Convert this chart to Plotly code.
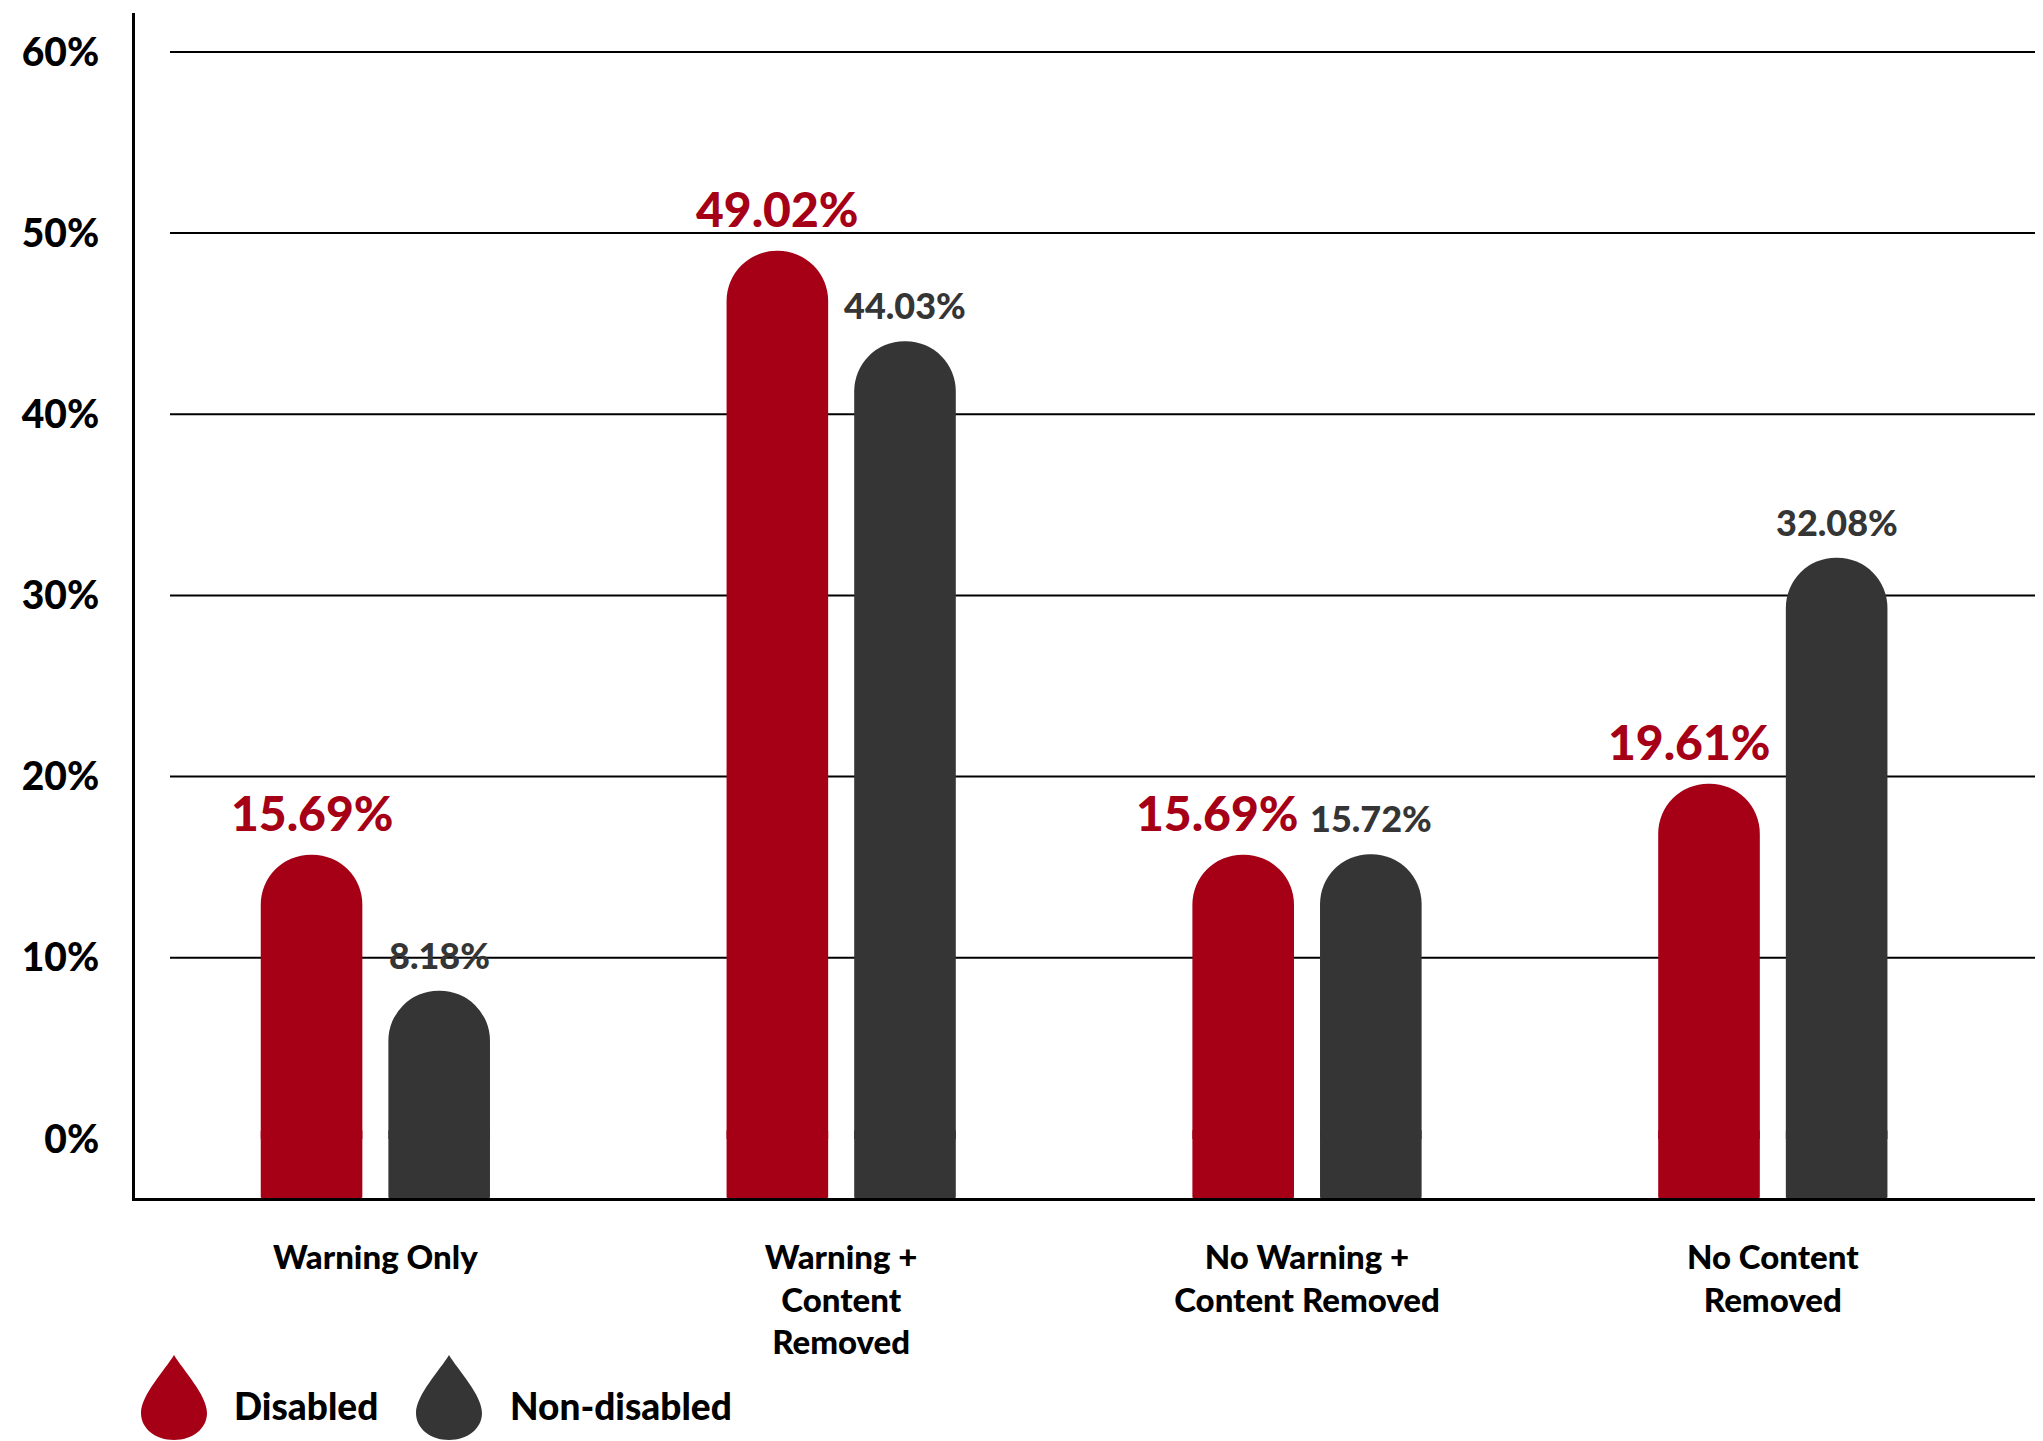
import plotly.graph_objects as go

# ---------------- data ----------------
categories = [
    "Warning Only",
    "Warning +<br>Content<br>Removed",
    "No Warning +<br>Content Removed",
    "No Content<br>Removed",
]
series_names = ["Disabled", "Non-disabled"]
disabled = [15.69, 49.02, 15.69, 19.61]
non_disabled = [8.18, 44.03, 15.72, 32.08]
y_tickvals = [0, 10, 20, 30, 40, 50, 60]
y_ticktext = ["0%", "10%", "20%", "30%", "40%", "50%", "60%"]

# ---------------- styles / layout ----------------
RED = "#A60016"
DARK = "#353535"
BLACK = "#000000"
FONT = "Lato, 'Open Sans', sans-serif"
PAGE_W, PAGE_H = 2043, 1441
BODY = 8                      # default body margin of the html page
W, H = PAGE_W - BODY, PAGE_H - BODY
PLOT_L, PLOT_T, PLOT_R, PLOT_B = 135, 13, 2043, 1198   # plot area in page pixels
M_L, M_T = PLOT_L - BODY, PLOT_T - BODY
M_R, M_B = PAGE_W - PLOT_R, PAGE_H - PLOT_B
PW, PH = PLOT_R - PLOT_L, PLOT_B - PLOT_T
Y_MIN, Y_MAX = -3.26, 62.15
X_RANGE = [-0.516, 3.58]
BARGAP, BARGROUPGAP = 0.452, 0.204
FOOT_OVERLAP = 0.5            # foot segment tucks under the bar
RED_LABEL_NUDGE = [0, 0, -26, -20]   # px, keeps neighbouring labels apart


def paper_x(px):
    return (px - PLOT_L) / PW


def paper_y(py):
    return (PLOT_B - py) / PH


fig = go.Figure()
for name, vals, color in [(series_names[0], disabled, RED), (series_names[1], non_disabled, DARK)]:
    # square foot below the 0% line, down to the axis floor (drawn first, underneath)
    fig.add_trace(go.Bar(
        name=name, offsetgroup=name, showlegend=False,
        x=categories,
        y=[FOOT_OVERLAP - Y_MIN for _ in vals],
        base=Y_MIN,
        marker=dict(color=color, cornerradius=1, line=dict(width=0)),
        hoverinfo="skip",
    ))
    # main bar from 0 to the value, rounded top
    fig.add_trace(go.Bar(
        name=name, offsetgroup=name,
        x=categories,
        y=vals,
        marker=dict(color=color, cornerradius="50%", line=dict(width=0)),
        hovertemplate="%{x}<br>" + name + ": %{y:.2f}%<extra></extra>",
    ))

# value labels above bars
px_per_unit = PW / (X_RANGE[1] - X_RANGE[0])
slot = (1 - BARGAP) / 2
offset_px = slot / 2 * px_per_unit
annotations = []
for i, cat in enumerate(categories):
    annotations.append(dict(
        x=cat, y=disabled[i], xref="x", yref="y", text=f"{disabled[i]:.2f}%",
        showarrow=False, xanchor="center", yanchor="bottom",
        xshift=-offset_px + RED_LABEL_NUDGE[i], yshift=12,
        font=dict(family=FONT, size=48, color=RED, weight=900),
    ))
    annotations.append(dict(
        x=cat, y=non_disabled[i], xref="x", yref="y", text=f"{non_disabled[i]:.2f}%",
        showarrow=False, xanchor="center", yanchor="bottom",
        xshift=offset_px, yshift=12,
        font=dict(family=FONT, size=36, color=DARK, weight=900),
    ))

# gridlines (start slightly right of the axis line)
shapes = []
for tv in y_tickvals:
    if tv == 0:
        continue
    shapes.append(dict(
        type="line", xref="paper", yref="y", x0=paper_x(170), x1=1, y0=tv, y1=tv,
        line=dict(color=BLACK, width=2), layer="below",
    ))

# custom legend with teardrop markers
drop_path = ("M 0,52 C 9,37 33,12 33,-6 C 33,-22 18,-33 0,-33 "
             "C -18,-33 -33,-22 -33,-6 C -33,12 -9,37 0,52 Z")
legend_items = [(series_names[0], RED, 174, 232), (series_names[1], DARK, 449, 508)]
for name, color, drop_x, text_x in legend_items:
    shapes.append(dict(
        type="path", path=drop_path, xref="paper", yref="paper",
        xsizemode="pixel", ysizemode="pixel",
        xanchor=paper_x(drop_x), yanchor=paper_y(1407),
        fillcolor=color, line=dict(width=0),
    ))
    annotations.append(dict(
        x=paper_x(text_x), y=paper_y(1406), xref="paper", yref="paper",
        text=name, showarrow=False, xanchor="left", yanchor="middle",
        font=dict(family=FONT, size=37, color=BLACK, weight=900),
    ))

fig.update_layout(
    width=W, height=H,
    margin=dict(l=M_L, r=M_R, t=M_T, b=M_B, pad=0),
    paper_bgcolor="white", plot_bgcolor="white",
    barmode="group", bargap=BARGAP, bargroupgap=BARGROUPGAP,
    showlegend=False,
    shapes=shapes, annotations=annotations,
    font=dict(family=FONT, color=BLACK),
)
fig.update_xaxes(
    range=X_RANGE, showgrid=False, zeroline=False,
    showline=True, linecolor=BLACK, linewidth=3,
    ticks="", ticklabelstandoff=28,
    tickfont=dict(family=FONT, size=33, color=BLACK, weight=900),
)
fig.update_yaxes(
    range=[Y_MIN, Y_MAX], showgrid=False, zeroline=False,
    showline=True, linecolor=BLACK, linewidth=3,
    tickvals=y_tickvals, ticktext=y_ticktext,
    ticks="", ticklabelstandoff=25,
    tickfont=dict(family=FONT, size=39, color=BLACK, weight=900),
)

fig.write_html("out.html")
